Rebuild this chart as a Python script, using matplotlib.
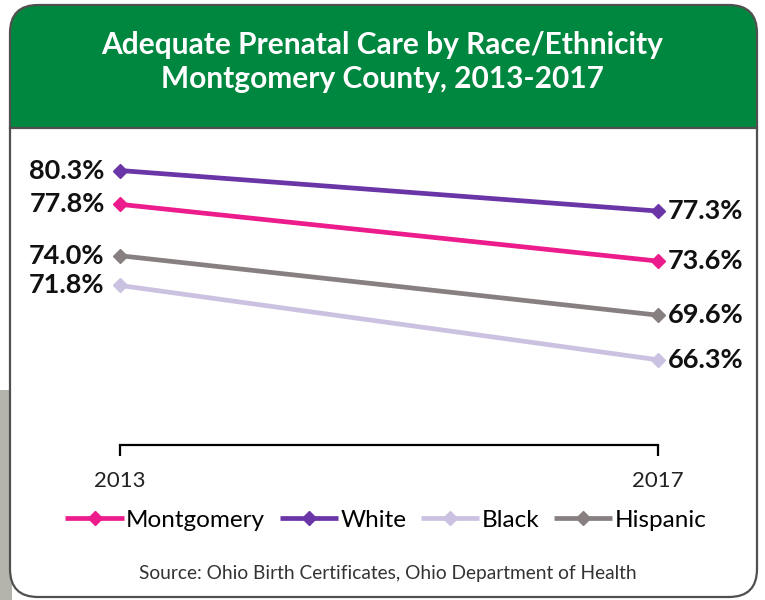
import matplotlib.pyplot as plt
from matplotlib.patches import FancyBboxPatch, Rectangle

years = [2013, 2017]
series = ['Montgomery', 'White', 'Black', 'Hispanic']
montgomery = [77.8, 73.6]
white = [80.3, 77.3]
black = [71.8, 66.3]
hispanic = [74.0, 69.6]
colors = ['#EC1C8C', '#6A35A6', '#CBC1E0', '#888080']

plt.rcParams['font.family'] = ['Lato', 'DejaVu Sans']

fig = plt.figure(figsize=(7.65, 6), dpi=100)

# background frame drawn in pixel coordinates
bg = fig.add_axes([0, 0, 1, 1])
bg.set_xlim(0, 765)
bg.set_ylim(600, 0)
bg.axis('off')
bg.set_zorder(0)
bg.add_patch(Rectangle((0, 390), 12, 210, color='#b4b4ac', lw=0))
bg.add_patch(FancyBboxPatch((10, 5), 747, 592, boxstyle='round,pad=0,rounding_size=28',
                            fc='#00873F', ec='none'))
bg.add_patch(FancyBboxPatch((10, 128), 747, 469, boxstyle='round,pad=0,rounding_size=28',
                            fc='white', ec='none'))
bg.add_patch(Rectangle((10, 128), 747, 60, fc='white', ec='none'))
bg.add_patch(FancyBboxPatch((10, 5), 747, 592, boxstyle='round,pad=0,rounding_size=28',
                            fc='none', ec='#505050', lw=1.6))
bg.plot([10, 757], [128, 128], color='#505050', lw=1.6)

fig.text(0.5, 1 - 62 / 600, 'Adequate Prenatal Care by Race/Ethnicity\nMontgomery County, 2013-2017',
         ha='center', va='center', color='white', fontsize=21.5, fontweight='bold', linespacing=1.3)

ax = fig.add_axes([120 / 765, 155 / 600, 538 / 765, 311 / 600])
ax.set_zorder(1)
ax.patch.set_visible(False)

values = [montgomery, white, black, hispanic]
handles = []
for name, vals, c in zip(series, values, colors):
    ln, = ax.plot(years, vals, color=c, lw=3.4, marker='D', ms=7, clip_on=False,
                  solid_capstyle='butt', label=name)
    handles.append(ln)
    ax.annotate(f'{vals[0]:.1f}%', (years[0], vals[0]), xytext=(-11, 0),
                textcoords='offset points', ha='right', va='center',
                fontsize=19.5, fontweight='bold', color='#111111')
    ax.annotate(f'{vals[1]:.1f}%', (years[1], vals[1]), xytext=(7, 0),
                textcoords='offset points', ha='left', va='center',
                fontsize=19.5, fontweight='bold', color='#111111')

ax.set_xlim(2013, 2017)
ax.set_ylim(60, 83)
ax.set_xticks(years)
ax.set_xticklabels(['2013', '2017'])
ax.set_yticks([])
for s in ['top', 'left', 'right']:
    ax.spines[s].set_visible(False)
ax.spines['bottom'].set_linewidth(1.6)
ax.tick_params(axis='x', direction='out', length=8, width=1.6, pad=11,
               labelsize=16, labelcolor='#222222')

fig.legend(handles=handles, loc='center', bbox_to_anchor=(386 / 765, 1 - 520 / 600),
           ncol=4, frameon=False, fontsize=17.5, handlelength=2.4, handletextpad=0.1,
           columnspacing=0.6, borderpad=0)

fig.text(388 / 765, 1 - 573 / 600, 'Source: Ohio Birth Certificates, Ohio Department of Health',
         ha='center', va='center', fontsize=13.8, color='#333333')

plt.savefig('out.png', dpi=100)
